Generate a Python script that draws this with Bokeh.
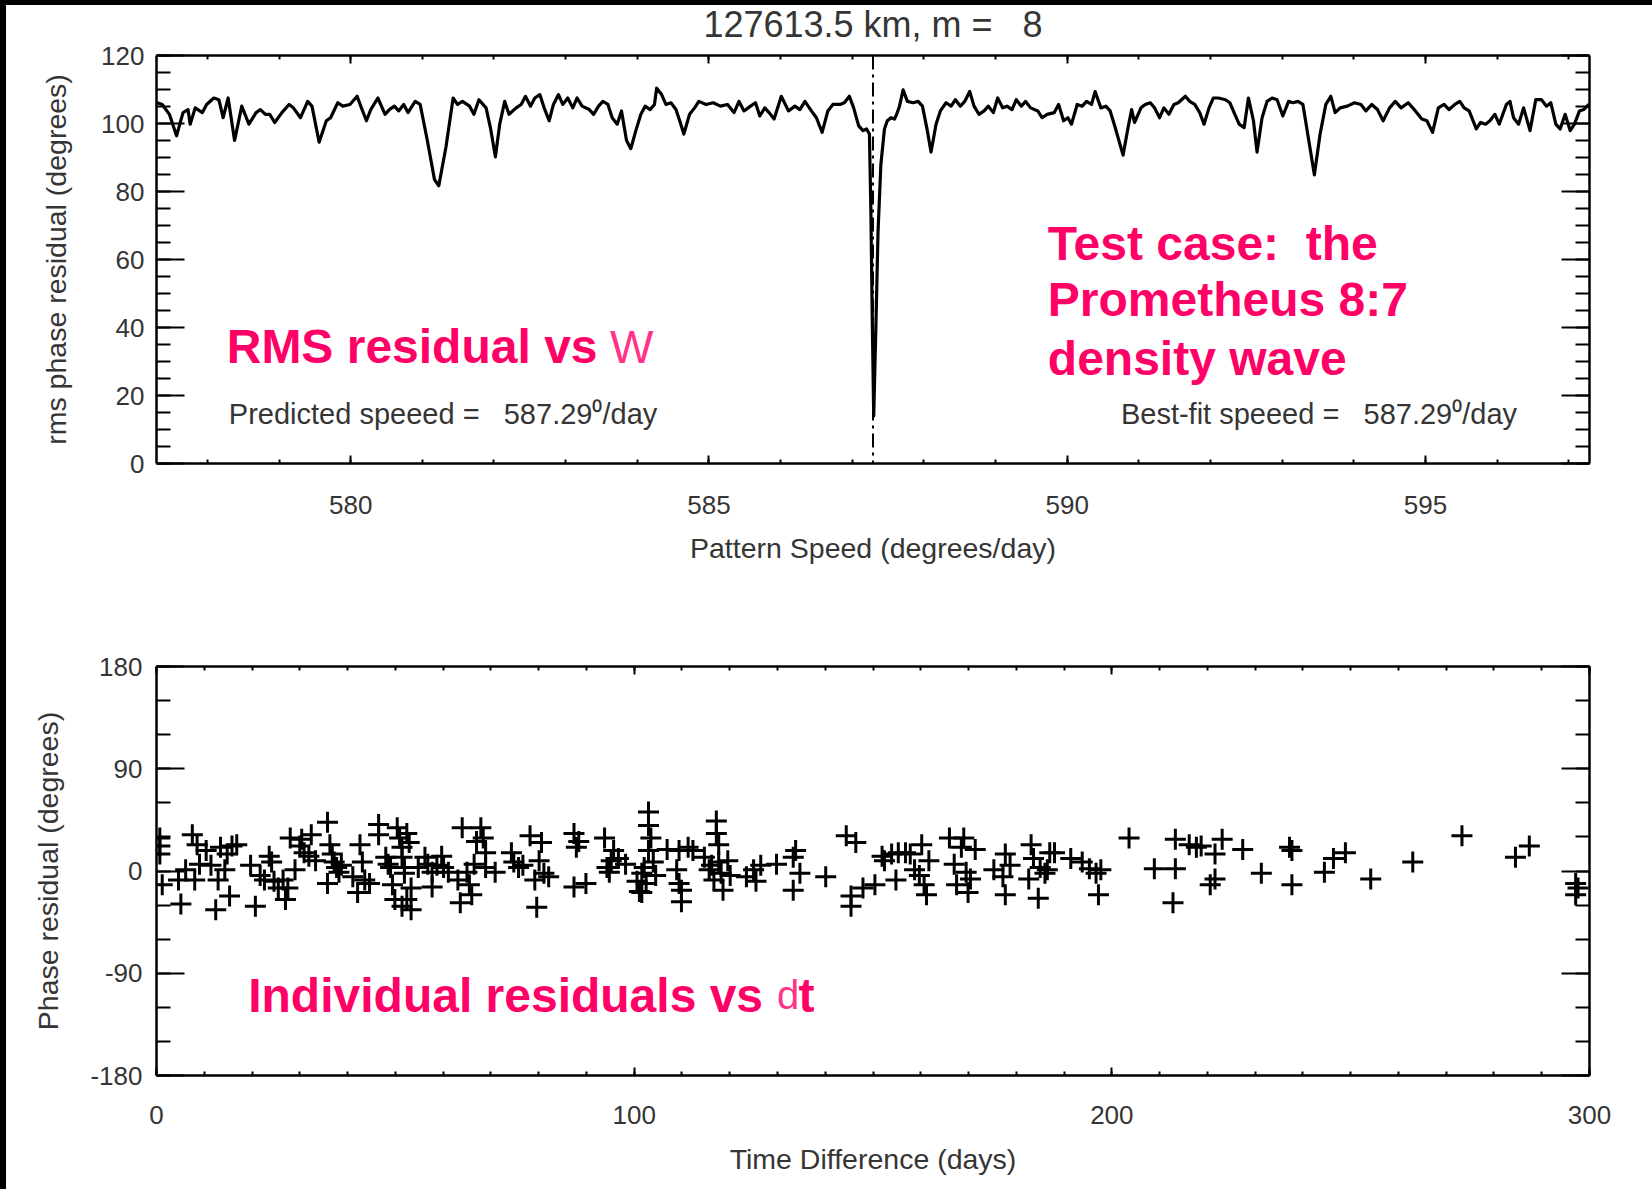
import numpy as np
from bokeh.plotting import figure
from bokeh.models import Range1d, LinearAxis, FixedTicker, Span, Spacer
from bokeh.layouts import column, row
from bokeh.core.properties import value
from bokeh.embed import file_html
from bokeh.resources import INLINE

NB = "\u00a0"
# ---------------- data ----------------
title_text = "127613.5 km, m =" + NB + NB + " 8"
predicted_speed = 587.29
bestfit_speed = 587.29

speed = [
    577.30, 577.37, 577.47, 577.57, 577.66, 577.73, 577.76, 577.83, 577.93, 577.99,
    578.09, 578.16, 578.22, 578.29, 578.38, 578.48, 578.58, 578.68, 578.74, 578.81,
    578.87, 578.94, 579.04, 579.14, 579.20, 579.30, 579.40, 579.46, 579.56, 579.66,
    579.72, 579.82, 579.89, 579.99, 580.09, 580.15, 580.22, 580.28, 580.38, 580.48,
    580.54, 580.61, 580.67, 580.74, 580.80, 580.90, 580.97, 581.07, 581.17, 581.23,
    581.33, 581.43, 581.49, 581.56, 581.66, 581.72, 581.79, 581.89, 581.95, 582.02,
    582.08, 582.15, 582.21, 582.31, 582.38, 582.44, 582.51, 582.57, 582.64, 582.70,
    582.77, 582.83, 582.90, 582.96, 583.03, 583.10, 583.16, 583.23, 583.33, 583.39,
    583.46, 583.52, 583.59, 583.65, 583.72, 583.78, 583.85, 583.91, 583.98, 584.05,
    584.11, 584.18, 584.24, 584.27, 584.34, 584.40, 584.47, 584.54, 584.60, 584.65,
    584.73, 584.80, 584.86, 584.96, 585.06, 585.16, 585.26, 585.35, 585.42, 585.49,
    585.58, 585.65, 585.71, 585.78, 585.84, 585.91, 586.01, 586.11, 586.20, 586.27,
    586.34, 586.43, 586.50, 586.58, 586.66, 586.73, 586.83, 586.89, 586.96, 587.02,
    587.09, 587.15, 587.20, 587.24, 587.26, 587.28, 587.30, 587.33, 587.36, 587.40,
    587.45, 587.49, 587.54, 587.59, 587.62, 587.66, 587.71, 587.77, 587.85, 587.92,
    587.98, 588.04, 588.10, 588.17, 588.23, 588.31, 588.38, 588.44, 588.51, 588.57,
    588.64, 588.70, 588.77, 588.84, 588.90, 588.97, 589.03, 589.10, 589.16, 589.23,
    589.29, 589.36, 589.42, 589.49, 589.59, 589.65, 589.72, 589.82, 589.88, 589.95,
    590.01, 590.06, 590.14, 590.21, 590.27, 590.34, 590.39, 590.47, 590.54, 590.60,
    590.67, 590.78, 590.85, 590.90, 590.94, 591.03, 591.09, 591.16, 591.22, 591.29,
    591.35, 591.42, 591.49, 591.55, 591.65, 591.71, 591.78, 591.85, 591.91, 591.98,
    592.04, 592.11, 592.21, 592.27, 592.34, 592.40, 592.47, 592.53, 592.60, 592.65,
    592.72, 592.79, 592.86, 592.93, 593.01, 593.09, 593.15, 593.22, 593.29, 593.35,
    593.45, 593.53, 593.61, 593.68, 593.74, 593.81, 593.91, 594.01, 594.10, 594.17,
    594.25, 594.33, 594.41, 594.50, 594.58, 594.66, 594.76, 594.86, 594.95, 595.02,
    595.10, 595.18, 595.26, 595.33, 595.41, 595.48, 595.54, 595.61, 595.71, 595.77,
    595.84, 595.90, 595.97, 596.03, 596.13, 596.18, 596.23, 596.30, 596.37, 596.46,
    596.54, 596.62, 596.69, 596.75, 596.82, 596.88, 596.95, 597.02, 597.08, 597.15,
    597.21, 597.28,
]
rms = [
    106.1, 105.6, 102.7, 96.4, 103.2, 104.1, 99.8, 104.6, 103.2, 105.6,
    107.5, 107.0, 101.7, 107.5, 95.0, 105.1, 99.8, 103.2, 104.1, 102.7,
    102.7, 100.3, 103.2, 105.6, 104.6, 101.7, 106.5, 105.1, 94.5, 100.8,
    101.7, 106.1, 105.1, 105.6, 108.0, 104.6, 100.8, 104.1, 107.5, 102.7,
    104.1, 105.1, 103.7, 105.6, 103.2, 106.5, 105.6, 95.0, 83.5, 81.7,
    93.1, 107.5, 105.6, 106.5, 105.1, 102.7, 107.0, 104.6, 98.8, 90.2,
    99.8, 106.5, 102.7, 104.6, 105.6, 108.0, 105.1, 107.5, 108.5, 104.6,
    100.8, 105.6, 108.5, 105.6, 107.5, 104.6, 107.5, 105.1, 104.1, 102.7,
    105.1, 106.5, 105.6, 101.7, 99.8, 103.7, 95.0, 92.6, 97.9, 102.7,
    105.1, 104.1, 105.6, 110.4, 108.5, 105.6, 106.1, 104.1, 100.3, 96.9,
    102.7, 104.6, 106.5, 105.6, 106.1, 105.1, 105.6, 103.2, 106.5, 103.7,
    105.1, 106.1, 102.2, 104.6, 103.2, 101.3, 108.0, 103.7, 105.1, 104.1,
    106.5, 103.7, 101.7, 97.4, 103.7, 105.6, 105.6, 106.1, 108.0, 104.6,
    99.3, 97.9, 98.4, 96.9, 75.0, 42.0, 14.0, 40.0, 68.0, 88.0,
    98.4, 100.8, 101.7, 101.3, 102.7, 105.1, 109.9, 106.5, 106.1, 106.5,
    105.1, 98.8, 91.6, 99.8, 103.7, 106.1, 105.1, 107.0, 105.1, 106.5,
    109.4, 105.1, 102.7, 103.7, 105.1, 103.2, 107.5, 104.6, 105.1, 104.1,
    107.0, 105.1, 106.5, 104.6, 103.7, 101.7, 102.7, 103.2, 105.6, 100.8,
    101.7, 99.8, 105.6, 105.1, 106.5, 105.6, 109.4, 104.6, 105.1, 103.7,
    98.8, 90.7, 98.8, 104.1, 100.3, 104.6, 105.6, 106.1, 104.6, 101.7,
    104.6, 102.7, 105.6, 106.1, 108.0, 106.5, 105.6, 103.2, 99.8, 104.6,
    107.5, 107.5, 107.0, 106.1, 102.7, 99.8, 98.8, 107.5, 100.8, 91.6,
    101.7, 106.5, 107.5, 107.0, 102.2, 106.5, 106.1, 106.5, 105.6, 97.9,
    84.9, 96.9, 105.6, 108.0, 103.2, 104.6, 105.1, 106.1, 105.6, 103.7,
    105.6, 104.1, 100.8, 104.6, 106.5, 104.6, 106.1, 103.7, 101.3, 100.8,
    97.4, 104.6, 105.6, 104.1, 105.6, 106.5, 104.6, 103.7, 98.4, 100.3,
    99.8, 100.8, 102.7, 99.8, 105.6, 106.5, 101.7, 99.8, 104.6, 97.9,
    107.0, 107.0, 105.1, 106.1, 99.8, 98.4, 102.7, 97.9, 99.8, 103.7,
    104.1, 105.6,
]

dt_early = [
    0.7, 0.7, 0.7, 1.2, 4.6, 5.1, 6.1, 7.5, 8.5, 8.0,
    9.0, 10.4, 11.4, 12.4, 12.9, 13.4, 14.3, 15.3, 15.8, 14.8,
    16.8, 19.7, 20.7, 21.7, 22.6, 23.6, 24.1, 24.6, 25.5, 26.5,
    27.0, 27.5, 28.0, 29.0, 30.0, 30.4, 30.9, 32.4, 31.9, 33.3,
    35.8, 36.3, 35.8, 36.8, 37.2, 37.7, 38.7, 38.2, 41.1, 42.1,
    42.6, 43.1, 43.6, 44.6, 46.5, 46.5, 48.0, 48.5, 49.0, 49.4,
    49.9, 50.4, 50.9, 51.4, 51.4, 51.9, 51.9, 52.4, 52.4, 52.9,
    53.3, 53.3, 51.4, 54.8, 56.2, 56.8, 57.7, 57.7, 58.7, 59.7,
    60.1, 61.1, 63.1, 63.6, 64.0, 65.0, 65.5, 66.0, 66.5, 67.0,
    67.9, 68.4, 68.9, 68.9, 70.9, 74.3, 74.8, 75.8, 76.7, 78.2,
    79.2, 79.6, 80.1, 80.6, 81.1, 82.1, 87.4, 87.4, 87.9, 88.4,
    89.9, 93.8, 94.3, 94.8, 95.2, 95.7, 96.7, 98.2, 100.6, 101.1,
    101.6, 101.6, 102.1, 102.5, 103.0, 103.0, 103.5, 103.0, 104.0, 104.5,
    106.9, 108.9, 109.4, 109.9, 109.9, 109.4, 111.3, 112.3, 114.7, 115.7,
    116.2, 116.7, 117.2, 117.2, 117.7, 117.7, 118.2, 118.6, 119.6, 120.1,
    123.5, 125.0, 125.5, 126.5, 129.8, 133.3, 133.3, 133.8, 134.7, 140.1,
    144.4, 145.4, 145.4, 146.4, 147.9,
]
resid_early = [
    29, 22, 15, -12, -8, -29, 1, 32, 23, -8,
    6, 18, 5, -34, -8, 21, 1, -22, 22, 15,
    23, 5, -31, -4, -8, 13, 8, -9, -15, -8,
    -25, -15, 29, 1, 22, 28, 16, 32, 13, 9,
    43, 23, -11, 15, 8, 3, 5, -1, -5, -19,
    23, 8, -8, -11, 41, 32, 12, 6, 3, -12,
    -25, 38, 29, 21, 12, 3, -2, 33, -25, 25,
    -15, -34, -31, 3, 12, 6, -1, -14, 5, 13,
    3, -1, -8, -28, 38, -1, -12, -21, 6, 26,
    38, 29, 16, 3, -1, 16, 8, 3, 5, 31,
    -8, -32, 9, 25, -2, -5, -14, 33, 21, 26,
    -11, 29, 3, -1, 9, 18, 11, 6, -9, -18,
    -19, -2, 3, -11, 52, 40, 29, 18, 8, -4,
    19, 1, -11, -17, -27, 18, 21, 18, 12, 1,
    5, -8, 44, 33, 23, 8, -2, -17, 9, -4,
    -5, 1, -9, 5, 6, 12, -17, 18, -2, -5,
    31, -22, -31, 25, -15,
]
dt_late = [
    150.4, 151.9, 152.4, 153.9, 154.8, 155.3, 156.8, 157.8, 158.7, 159.7,
    160.2, 160.7, 161.2, 161.7, 166.0, 167.0, 167.5, 168.5, 169.0, 169.5,
    169.9, 170.4, 171.4, 175.3, 177.2, 177.7, 177.7, 178.7, 182.6, 183.1,
    183.6, 184.6, 185.0, 186.0, 186.5, 187.0, 188.0, 191.4, 193.8, 195.3,
    196.7, 197.2, 197.7, 203.6, 208.9, 213.3, 213.3, 212.8, 216.2, 217.7,
    218.7, 220.6, 221.6, 221.6, 223.1, 227.4, 231.3, 237.2, 237.7, 237.7,
    244.5, 246.4, 248.9, 254.2, 263.0, 273.3, 284.5, 287.4, 297.1, 297.1,
    297.6,
]
resid_late = [
    -12, 13, 9, 15, -8, 16, 16, 15, 1, -4,
    23, -12, -21, 9, 29, 6, -12, 21, 29, -1,
    -19, -7, 19, 1, -5, 15, -21, 5, -7, 23,
    11, -24, 3, -2, 1, 16, 16, 11, 8, 2,
    -2, -21, 1, 29, 2, 28, 2, -28, 23, 21,
    22, -12, -7, 15, 28, 19, -2, 21, 18, -12,
    -1, 11, 16, -7, 8, 31, 12, 22, -11, -21,
    -15,
]
dt_days = dt_early + dt_late
residual = resid_early + resid_late

top_xticks = [580, 585, 590, 595]
top_yticks = [0, 20, 40, 60, 80, 100, 120]
bot_xticks = [0, 100, 200, 300]
bot_yticks = [-180, -90, 0, 90, 180]
bot_ylabels = ["-180", "-90", "0", "90", "180"]

# ---------------- styles ----------------
FONT = "Liberation Sans"
GREY = "#353535"
PINK = "#ff0066"
PINK2 = "#ff3388"
TICKFS = "26px"
LABFS = "28.5px"


def style_axis(ax, kind, ticks=None, label_standoff=None, show_labels=True,
               tick_label_standoff=0):
    ax.axis_line_color = "black"
    ax.axis_line_width = 2.5
    ax.major_tick_line_color = "black"
    ax.minor_tick_line_color = "black"
    ax.major_tick_line_width = 2
    ax.minor_tick_line_width = 2
    ax.major_tick_out = 0
    ax.minor_tick_out = 0
    if kind == "x":
        ax.major_tick_in = 8
        ax.minor_tick_in = 4
    else:
        ax.major_tick_in = 28
        ax.minor_tick_in = 14
    ax.major_label_text_font = FONT
    ax.major_label_text_color = GREY
    ax.axis_label_text_font = FONT
    ax.axis_label_text_font_style = "normal"
    ax.axis_label_text_color = GREY
    ax.axis_label_text_font_size = LABFS
    if show_labels:
        ax.major_label_text_font_size = TICKFS
        ax.major_label_standoff = tick_label_standoff
    else:
        ax.major_label_overrides = {t: "" for t in ticks}
        ax.major_label_text_font_size = "1px"
        ax.major_label_standoff = 0
    if label_standoff is not None:
        ax.axis_label_standoff = label_standoff


# ---------------- top plot ----------------
# the figure starts 11 px above the page so that the title can sit high
p1 = figure(width=1646, height=601, output_backend="svg", toolbar_location=None,
            x_range=Range1d(577.29, 597.29), y_range=Range1d(0, 120),
            min_border_left=150, min_border_right=63, min_border_top=66,
            min_border_bottom=127, title=title_text,
            styles={"margin-top": "-16px"})
p1.title.align = "center"
p1.title.text_font = FONT
p1.title.text_font_style = "normal"
p1.title.text_font_size = "36px"
p1.title.text_color = GREY
p1.title.standoff = 22
p1.outline_line_color = None
p1.xgrid.visible = False
p1.ygrid.visible = False
p1.background_fill_color = "white"
p1.border_fill_color = "white"

tx = FixedTicker(ticks=top_xticks, minor_ticks=list(np.arange(577, 598, 1.0)))
ty = FixedTicker(ticks=top_yticks, minor_ticks=list(np.arange(0, 121, 5.0)))
p1.xaxis.ticker = tx
p1.yaxis.ticker = ty
p1.xaxis.axis_label = "Pattern Speed (degrees/day)"
p1.yaxis.axis_label = "rms phase residual (degrees)"
style_axis(p1.xaxis[0], "x", label_standoff=15, tick_label_standoff=32)
style_axis(p1.yaxis[0], "y", label_standoff=26, tick_label_standoff=12)
ax_r = LinearAxis(ticker=ty)
style_axis(ax_r, "y", ticks=top_yticks, show_labels=False)
p1.add_layout(ax_r, "right")
ax_t = LinearAxis(ticker=tx)
style_axis(ax_t, "x", ticks=top_xticks, show_labels=False)
p1.add_layout(ax_t, "above")

p1.line(speed, rms, line_color="black", line_width=3.2, line_join="round")
p1.add_layout(Span(location=bestfit_speed, dimension="height", line_color="black",
                   line_width=2, line_dash="14 5 3 5"))

p1.text(x=[578.27, 589.73, 589.73, 589.73], y=[34.4, 64.8, 48.1, 31.0],
        text=["RMS residual vs", "Test case:" + NB + " the", "Prometheus 8:7", "density wave"],
        text_font=value(FONT), text_font_style="bold", text_font_size="48px",
        text_color=PINK, text_baseline="alphabetic", text_align="left")
p1.text(x=[583.62], y=[34.4], text=["W"], text_font=value(FONT),
        text_font_style="normal", text_font_size="46px", text_color=PINK2,
        text_baseline="alphabetic", text_align="left")
p1.text(x=[578.30, 590.75], y=[14.6, 14.6],
        text=[f"Predicted speeed =" + NB + NB + f" {predicted_speed:.2f}\u2070/day",
              f"Best-fit speeed =" + NB + NB + f" {bestfit_speed:.2f}\u2070/day"],
        text_font=value(FONT), text_font_style="normal", text_font_size="29px",
        text_color=GREY, text_baseline="alphabetic", text_align="left")

# ---------------- bottom plot ----------------
p2 = figure(width=1646, height=599, output_backend="svg", toolbar_location=None,
            x_range=Range1d(0, 300), y_range=Range1d(-180, 180),
            min_border_left=150, min_border_right=63, min_border_top=76,
            min_border_bottom=114)
p2.outline_line_color = None
p2.xgrid.visible = False
p2.ygrid.visible = False
bx = FixedTicker(ticks=bot_xticks, minor_ticks=list(np.arange(0, 301, 10.0)))
by = FixedTicker(ticks=bot_yticks, minor_ticks=list(np.arange(-180, 181, 30.0)))
p2.xaxis.ticker = bx
p2.yaxis.ticker = by
p2.yaxis.major_label_overrides = dict(zip(bot_yticks, bot_ylabels))
p2.xaxis.axis_label = "Time Difference (days)"
p2.yaxis.axis_label = "Phase residual (degrees)"
style_axis(p2.xaxis[0], "x", label_standoff=16, tick_label_standoff=30)
style_axis(p2.yaxis[0], "y", label_standoff=23, tick_label_standoff=14)
ax_r2 = LinearAxis(ticker=by)
style_axis(ax_r2, "y", ticks=bot_yticks, show_labels=False)
p2.add_layout(ax_r2, "right")
ax_t2 = LinearAxis(ticker=bx)
style_axis(ax_t2, "x", ticks=bot_xticks, show_labels=False)
p2.add_layout(ax_t2, "above")

p2.scatter(dt_days, residual, marker="cross", size=21, line_color="black", line_width=3)

p2.text(x=[19.2], y=[-109.5], text=["Individual residuals vs"], text_font=value(FONT),
        text_font_style="bold", text_font_size="48px", text_color=PINK,
        text_baseline="alphabetic", text_align="left")
p2.text(x=[129.9], y=[-109.5], text=["d"], text_font=value(FONT),
        text_font_style="normal", text_font_size="40px", text_color=PINK2,
        text_baseline="alphabetic", text_align="left")
p2.text(x=[134.4], y=[-109.5], text=["t"], text_font=value(FONT),
        text_font_style="bold", text_font_size="48px", text_color=PINK,
        text_baseline="alphabetic", text_align="left")

left_band = Spacer(width=6, height=1189, styles={"background-color": "black"})
top_band = Spacer(width=1646, height=5, styles={"background-color": "black",
                                                 "position": "relative", "z-index": "10"})
layout = row(left_band, column(top_band, p1, p2))

open("out.html", "w").write(file_html(layout, INLINE))
